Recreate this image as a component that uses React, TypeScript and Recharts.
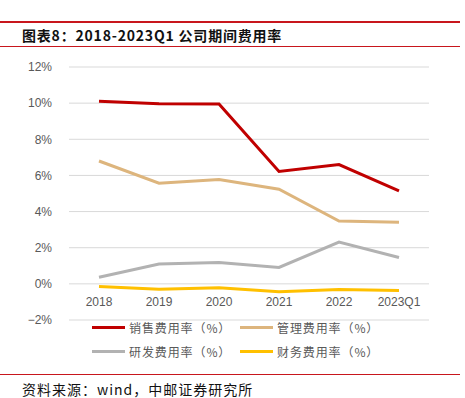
import { LineChart, Line, XAxis, YAxis, CartesianGrid } from 'recharts'

const years = ['2018', '2019', '2020', '2021', '2022', '2023Q1']
const sales = [10.1, 9.97, 9.95, 6.22, 6.6, 5.15]
const admin = [6.8, 5.57, 5.78, 5.24, 3.48, 3.41]
const rnd = [0.37, 1.1, 1.18, 0.91, 2.31, 1.46]
const finance = [-0.15, -0.3, -0.22, -0.44, -0.31, -0.37]
const yTicks = [-2, 0, 2, 4, 6, 8, 10, 12]

const series = [
  { key: 'sales', name: '销售费用率（%）', color: '#C00000' },
  { key: 'admin', name: '管理费用率（%）', color: '#DDB57D' },
  { key: 'rnd', name: '研发费用率（%）', color: '#B2B2B2' },
  { key: 'finance', name: '财务费用率（%）', color: '#FFC000' },
]

const data = years.map((year, i) => ({
  year,
  sales: sales[i],
  admin: admin[i],
  rnd: rnd[i],
  finance: finance[i],
}))

const font = '"Noto Sans CJK SC", "Noto Sans", sans-serif'

function YearTick(props: any) {
  const { x, y, payload } = props
  // x axis crosses at 0%, so labels are pulled up above the plot bottom
  return (
    <text x={x} y={y} dy={-22} textAnchor="middle" fill="#595959" fontSize={12} fontFamily="Liberation Sans, Arial, sans-serif">
      {payload.value}
    </text>
  )
}

function LegendBox() {
  return (
    <div style={{ display: 'grid', gridTemplateColumns: '148px 148px', rowGap: 6, fontFamily: font }}>
      {series.map((s) => (
        <div key={s.key} style={{ display: 'flex', alignItems: 'center', height: 18 }}>
          <span style={{ display: 'inline-block', width: 33, height: 3, background: s.color, marginRight: 4 }} />
          <span style={{ fontSize: 12, color: '#595959', letterSpacing: 0.9 }}>{s.name}</span>
        </div>
      ))}
    </div>
  )
}

export default function App() {
  return (
    <div style={{ position: 'relative', width: 465, height: 398, background: '#fff' }}>
      <style>{'body { margin: 0; }'}</style>
      <div style={{ position: 'absolute', left: 0, top: 21, width: 460, height: 2, background: '#C8161D' }} />
      <div
        style={{
          position: 'absolute', left: 22, top: 24, fontFamily: font, fontWeight: 700,
          fontSize: 14, color: '#111', lineHeight: '22px', letterSpacing: 0.8,
        }}
      >
        图表8：2018-2023Q1 公司期间费用率
      </div>
      <div style={{ position: 'absolute', left: 0, top: 46, width: 460, height: 1, background: '#C8161D' }} />

      <div style={{ position: 'absolute', left: 0, top: 0 }}>
        <LineChart width={465} height={398} data={data} margin={{ top: 67, right: 36, bottom: 48, left: 9 }}>
          <CartesianGrid vertical={false} stroke="#D9D9D9" />
          <XAxis
            dataKey="year"
            axisLine={false}
            tickLine={false}
            tick={<YearTick />}
            height={30}
            interval={0}
            padding={{ left: 30, right: 30 }}
          />
          <YAxis
            domain={[-2, 12]}
            ticks={yTicks}
            width={60}
            axisLine={false}
            tickLine={false}
            tickMargin={11}
            tick={{ fill: '#595959', fontSize: 12, fontFamily: 'Liberation Sans, Arial, sans-serif' }}
            tickFormatter={(v: number) => (v < 0 ? `−${Math.abs(v)}%` : `${v}%`)}
          />
          {series.map((s) => (
            <Line
              key={s.key}
              dataKey={s.key}
              name={s.name}
              stroke={s.color}
              strokeWidth={3}
              dot={false}
              type="linear"
              isAnimationActive={false}
            />
          ))}
        </LineChart>
      </div>

      <div style={{ position: 'absolute', left: 92, top: 318 }}>
        <LegendBox />
      </div>

      <div style={{ position: 'absolute', left: 0, top: 374, width: 460, height: 1, background: '#C8161D' }} />
      <div
        style={{
          position: 'absolute', left: 22, top: 381, fontFamily: font, fontSize: 14,
          color: '#111', lineHeight: '17px', letterSpacing: 1, whiteSpace: 'nowrap',
        }}
      >
        资料来源：wind，中邮证券研究所
      </div>
    </div>
  )
}
